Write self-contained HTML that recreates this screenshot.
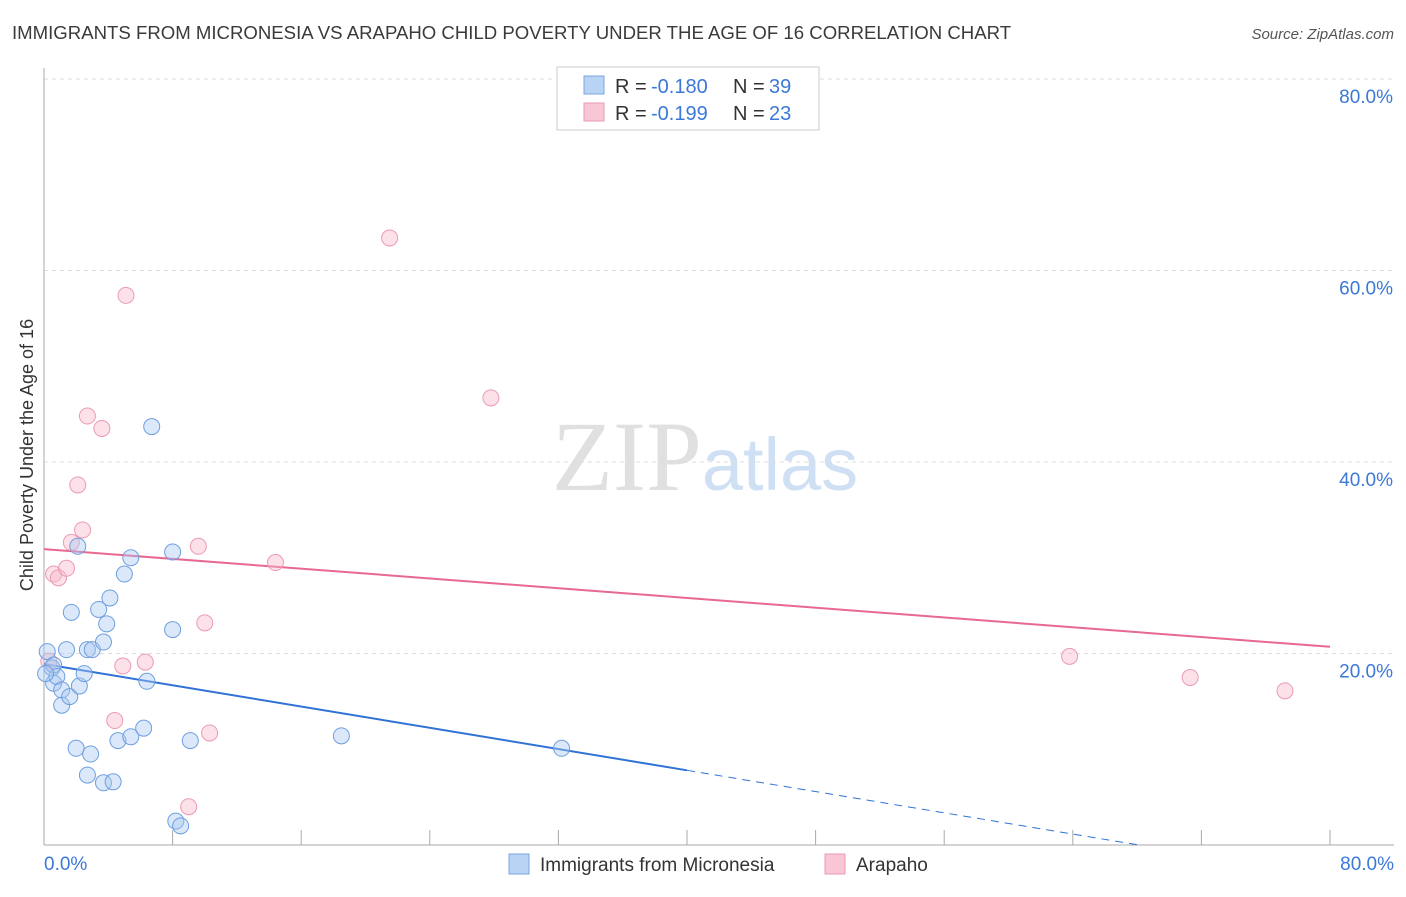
<!DOCTYPE html>
<html><head><meta charset="utf-8"><style>
body{margin:0;background:#fff;font-family:"Liberation Sans",sans-serif;}
</style></head><body>
<svg id="chart" width="1406" height="892" xmlns="http://www.w3.org/2000/svg" font-family="Liberation Sans, sans-serif">
<text x="12" y="39" font-size="18.6" fill="#3a3a3a">IMMIGRANTS FROM MICRONESIA VS ARAPAHO CHILD POVERTY UNDER THE AGE OF 16 CORRELATION CHART</text>
<text x="1394" y="39" font-size="15" fill="#555" text-anchor="end" font-style="italic">Source: ZipAtlas.com</text>
<text x="705" y="490" font-size="100" text-anchor="middle" fill="#e0e0e0" font-family="Liberation Serif, serif">ZIP<tspan fill="#cfe0f4" font-family="Liberation Sans, sans-serif" font-size="74">atlas</tspan></text>
<text transform="translate(33,455) rotate(-90)" font-size="18" fill="#333" text-anchor="middle">Child Poverty Under the Age of 16</text>
<g id="grid"></g><g id="axes"></g><g id="lines"></g><g id="pts"></g>
<g>
<rect x="557" y="67" width="262" height="63" fill="#fff" stroke="#ccc"/>
<rect x="584" y="76" width="20" height="18" fill="#b9d3f5" stroke="#7aa5e0"/>
<text x="615" y="93" font-size="20" fill="#333">R =</text>
<text x="651" y="93" font-size="20" fill="#3b78d8">-0.180</text>
<text x="733" y="93" font-size="20" fill="#333">N =</text>
<text x="769" y="93" font-size="20" fill="#3b78d8">39</text>
<rect x="584" y="103" width="20" height="18" fill="#f9c6d5" stroke="#ec9ab4"/>
<text x="615" y="120" font-size="20" fill="#333">R =</text>
<text x="651" y="120" font-size="20" fill="#3b78d8">-0.199</text>
<text x="733" y="120" font-size="20" fill="#333">N =</text>
<text x="769" y="120" font-size="20" fill="#3b78d8">23</text>
</g>
<g>
<rect x="509" y="854" width="20" height="20" fill="#b9d3f5" stroke="#7aa5e0"/>
<text x="540" y="871" font-size="19" fill="#333">Immigrants from Micronesia</text>
<rect x="825" y="854" width="20" height="20" fill="#f9c6d5" stroke="#ec9ab4"/>
<text x="856" y="871" font-size="19" fill="#333">Arapaho</text>
</g>
</svg>
<script>
const blueX=[0.2,0.5,0.6,0.6,0.8,1.1,1.4,1.1,1.6,1.7,2.1,2.0,2.2,2.5,2.7,2.7,3.0,2.9,3.4,3.7,3.9,3.7,4.3,4.1,4.6,5.0,5.4,5.4,6.2,6.4,6.7,8.0,8.0,8.2,8.5,9.1,18.5,32.2,0.1];
const blueY=[20.2,18.5,18.8,16.9,17.6,16.2,20.4,14.6,15.5,24.3,31.2,10.1,16.6,17.9,7.3,20.4,20.4,9.5,24.6,21.2,23.1,6.5,6.6,25.8,10.9,28.3,11.3,30.0,12.2,17.1,43.7,30.6,22.5,2.5,2.0,10.9,11.4,10.1,17.9];
const pinkX=[0.3,0.6,0.9,1.4,1.7,2.1,2.4,2.7,3.6,4.4,4.9,5.1,6.3,9.0,9.6,10.0,10.3,14.4,21.5,27.8,63.8,71.3,77.2];
const pinkY=[19.2,28.3,27.9,28.9,31.6,37.6,32.9,44.8,43.5,13.0,18.7,57.4,19.1,4.0,31.2,23.2,11.7,29.5,63.4,46.7,19.7,17.5,16.1];
const blueTrend=[18.9,-0.2775];
const pinkTrend=[30.9,-0.1275];
const yTicks=[20,40,60,80];
const xTickVals=[0,8,16,24,32,40,48,56,64,72,80];
const NS="http://www.w3.org/2000/svg";
const sx=v=>44+v/80*1286, sy=v=>845-v/20*191.5;
function mk(t,a,p){const e=document.createElementNS(NS,t);for(const k in a)e.setAttribute(k,a[k]);document.getElementById(p).appendChild(e);return e;}
yTicks.forEach(v=>{
 const l=mk('line',{x1:44,x2:1394,y1:sy(v),y2:sy(v),stroke:'#ddd','stroke-dasharray':'4,4'},'grid');
 
 
 const t=mk('text',{x:1393,y:sy(v)+24,'font-size':19,fill:'#3b78d8','text-anchor':'end'},'grid');
 t.textContent=v.toFixed(1)+'%';
 
 
});
const ax=mk('line',{x1:44,x2:44,y1:68,y2:845,stroke:'#aaa'},'axes');


const bx=mk('line',{x1:44,x2:1394,y1:845,y2:845,stroke:'#aaa'},'axes');


xTickVals.forEach(v=>{
 const t=mk('line',{x1:sx(v),x2:sx(v),y1:830,y2:845,stroke:'#aaa'},'axes');
 
 
});
[[0,44,'start'],[80,1394,'end']].forEach(([v,x,a])=>{
 const t=mk('text',{x:x,y:870,'font-size':19,fill:'#3b78d8','text-anchor':a},'axes');
 t.textContent=v.toFixed(1)+'%';
 
 
});
function pts(xs,ys,fill,stroke,name){xs.forEach((x,i)=>{
 const c=mk('circle',{cx:sx(x),cy:sy(ys[i]),r:8,fill:fill,'fill-opacity':0.42,stroke:stroke,'stroke-width':1},'pts');
 
 
});}
pts(pinkX,pinkY,'#f7b8cb','#ec9ab4','arapaho-point');
pts(blueX,blueY,'#a9c8f0','#6f9fe0','micronesia-point');
const bl=mk('line',{x1:sx(0),y1:sy(blueTrend[0]),x2:sx(40),y2:sy(blueTrend[0]+blueTrend[1]*40),stroke:'#2f72d6','stroke-width':2},'lines');


const xe=-blueTrend[0]/blueTrend[1];
const bd=mk('line',{x1:sx(40),y1:sy(blueTrend[0]+blueTrend[1]*40),x2:sx(xe),y2:sy(0),stroke:'#2f72d6','stroke-width':1,'stroke-dasharray':'8,6'},'lines');


const pl=mk('line',{x1:sx(0),y1:sy(pinkTrend[0]),x2:sx(80),y2:sy(pinkTrend[0]+pinkTrend[1]*80),stroke:'#e8688f','stroke-width':2},'lines');


</script>
</body></html>
